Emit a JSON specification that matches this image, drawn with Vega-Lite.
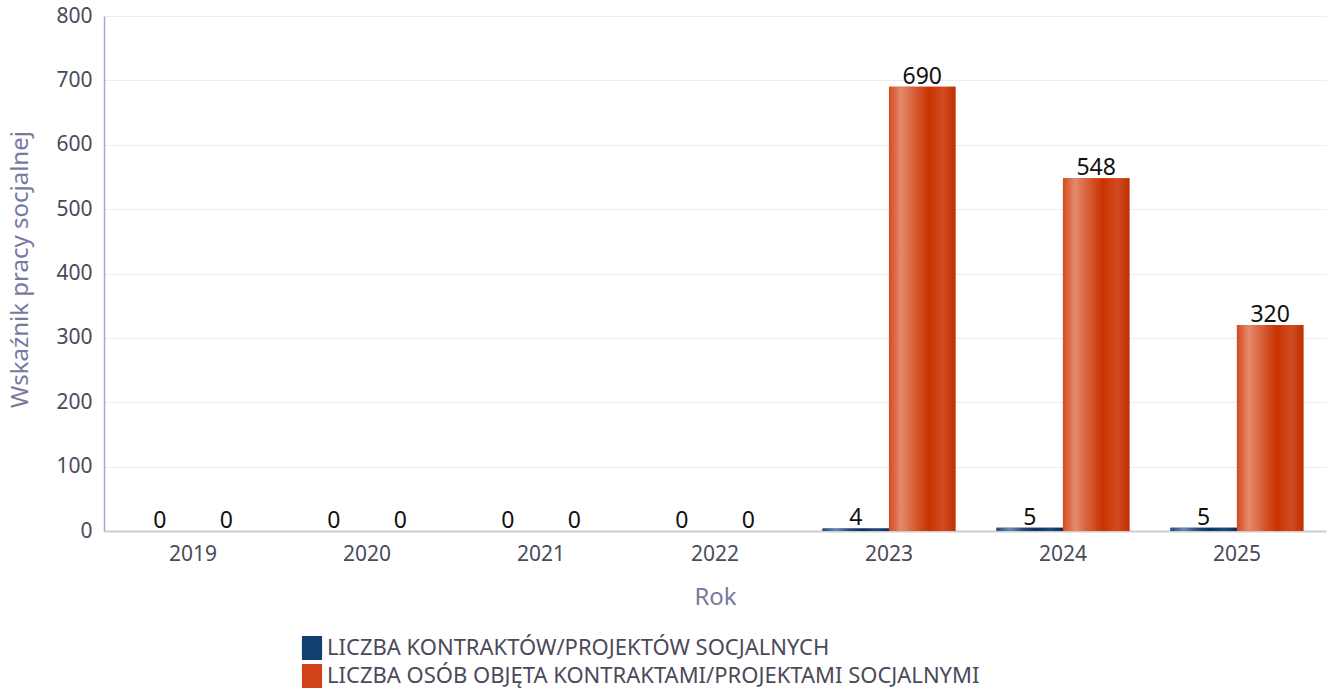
{
  "$schema": "https://vega.github.io/schema/vega-lite/v6.json",
  "width": 1222,
  "height": 515,
  "autosize": {"type": "none"},
  "padding": {"left": 104, "top": 16, "right": 1, "bottom": 159},
  "background": "white",
  "config": {
    "font": "Noto Sans",
    "view": {"stroke": null},
    "axis": {"labelFont": "Noto Sans", "titleFont": "Noto Sans"}
  },
  "data": {
    "values": [
      {"rok": "2019", "seria": "LICZBA KONTRAKTÓW/PROJEKTÓW SOCJALNYCH", "wartosc": 0},
      {"rok": "2019", "seria": "LICZBA OSÓB OBJĘTA KONTRAKTAMI/PROJEKTAMI SOCJALNYMI", "wartosc": 0},
      {"rok": "2020", "seria": "LICZBA KONTRAKTÓW/PROJEKTÓW SOCJALNYCH", "wartosc": 0},
      {"rok": "2020", "seria": "LICZBA OSÓB OBJĘTA KONTRAKTAMI/PROJEKTAMI SOCJALNYMI", "wartosc": 0},
      {"rok": "2021", "seria": "LICZBA KONTRAKTÓW/PROJEKTÓW SOCJALNYCH", "wartosc": 0},
      {"rok": "2021", "seria": "LICZBA OSÓB OBJĘTA KONTRAKTAMI/PROJEKTAMI SOCJALNYMI", "wartosc": 0},
      {"rok": "2022", "seria": "LICZBA KONTRAKTÓW/PROJEKTÓW SOCJALNYCH", "wartosc": 0},
      {"rok": "2022", "seria": "LICZBA OSÓB OBJĘTA KONTRAKTAMI/PROJEKTAMI SOCJALNYMI", "wartosc": 0},
      {"rok": "2023", "seria": "LICZBA KONTRAKTÓW/PROJEKTÓW SOCJALNYCH", "wartosc": 4},
      {"rok": "2023", "seria": "LICZBA OSÓB OBJĘTA KONTRAKTAMI/PROJEKTAMI SOCJALNYMI", "wartosc": 690},
      {"rok": "2024", "seria": "LICZBA KONTRAKTÓW/PROJEKTÓW SOCJALNYCH", "wartosc": 5},
      {"rok": "2024", "seria": "LICZBA OSÓB OBJĘTA KONTRAKTAMI/PROJEKTAMI SOCJALNYMI", "wartosc": 548},
      {"rok": "2025", "seria": "LICZBA KONTRAKTÓW/PROJEKTÓW SOCJALNYCH", "wartosc": 5},
      {"rok": "2025", "seria": "LICZBA OSÓB OBJĘTA KONTRAKTAMI/PROJEKTAMI SOCJALNYMI", "wartosc": 320}
    ]
  },
  "encoding": {
    "x": {
      "field": "rok", "type": "nominal",
      "scale": {"paddingInner": 0.236, "paddingOuter": 0.13},
      "axis": {
        "title": "Rok", "labelAngle": 0, "labelFontSize": 21, "labelColor": "#4a4a5a",
        "labelPadding": 12, "ticks": false, "domainColor": "#cccccc", "domainWidth": 2,
        "titleFontSize": 24, "titleFontWeight": "normal", "titleColor": "#7a78a0", "titlePadding": 21
      }
    },
    "xOffset": {"field": "seria", "type": "nominal", "scale": {"paddingInner": 0}},
    "y": {
      "field": "wartosc", "type": "quantitative",
      "scale": {"domain": [0, 800]},
      "axis": {
        "title": "Wskaźnik pracy socjalnej", "values": [0, 100, 200, 300, 400, 500, 600, 700, 800],
        "labelFontSize": 21, "labelColor": "#4a4a5a", "labelPadding": 12, "ticks": false,
        "domainColor": "#a8a6c4", "domainWidth": 1.5, "gridColor": "#ebebf0", "titleFontSize": 24,
        "titleFontWeight": "normal", "titleColor": "#7a78a0", "titleX": -84, "titleY": 253,
        "titleBaseline": "middle"
      }
    }
  },
  "layer": [
    {
      "mark": {"type": "bar"},
      "encoding": {
        "color": {
          "field": "seria", "type": "nominal",
          "scale": {"range": ["#123f70", "#d2421a"]},
          "legend": {
            "title": null, "orient": "none", "legendX": 196, "legendY": 620,
            "direction": "vertical", "symbolType": "M-0.84,-1H0.84V1H-0.84Z", "symbolSize": 576,
            "labelFontSize": 22, "labelColor": "#4a4a5a", "labelFont": "Noto Sans",
            "labelLimit": 0, "rowPadding": 4, "labelOffset": 3, "symbolStrokeWidth": 0,
            "symbolOpacity": 1,
            "encode": {
              "symbols": {
                "update": {
                  "fill": [
                    {
                      "test": "datum.index === 0",
                      "value": {
                        "gradient": "linear", "x1": 0, "y1": 0, "x2": 1, "y2": 0,
                        "stops": [
                          {"offset": 0, "color": "#1d4d80"},
                          {"offset": 0.25, "color": "#6a8bb0"},
                          {"offset": 0.5, "color": "#1f4b7c"},
                          {"offset": 0.75, "color": "#0b3163"},
                          {"offset": 1, "color": "#0a2d5a"}
                        ]
                      }
                    },
                    {
                      "value": {
                        "gradient": "linear", "x1": 0, "y1": 0, "x2": 1, "y2": 0,
                        "stops": [
                          {"offset": 0, "color": "#d44a1e"},
                          {"offset": 0.25, "color": "#e48a6c"},
                          {"offset": 0.5, "color": "#d65a32"},
                          {"offset": 0.75, "color": "#c83300"},
                          {"offset": 1, "color": "#bd3000"}
                        ]
                      }
                    }
                  ]
                }
              }
            }
          }
        }
      }
    },
    {
      "transform": [{"filter": "datum.seria === 'LICZBA KONTRAKTÓW/PROJEKTÓW SOCJALNYCH'"}],
      "mark": {
        "type": "bar",
        "fill": {
          "gradient": "linear", "x1": 0, "y1": 0, "x2": 1, "y2": 0,
          "stops": [
            {"offset": 0, "color": "#1d4d80"},
            {"offset": 0.2, "color": "#6a8bb0"},
            {"offset": 0.4, "color": "#234f80"},
            {"offset": 0.6, "color": "#0b3163"},
            {"offset": 0.82, "color": "#1f4a7a"},
            {"offset": 1, "color": "#0a2d5a"}
          ]
        }
      },
      "encoding": {}
    },
    {
      "transform": [{"filter": "datum.seria === 'LICZBA OSÓB OBJĘTA KONTRAKTAMI/PROJEKTAMI SOCJALNYMI'"}],
      "mark": {
        "type": "bar",
        "fill": {
          "gradient": "linear", "x1": 0, "y1": 0, "x2": 1, "y2": 0,
          "stops": [
            {"offset": 0, "color": "#d44a1e"},
            {"offset": 0.18, "color": "#e48a6c"},
            {"offset": 0.4, "color": "#d65a32"},
            {"offset": 0.6, "color": "#c83300"},
            {"offset": 0.82, "color": "#d24c22"},
            {"offset": 1, "color": "#bd3000"}
          ]
        }
      },
      "encoding": {}
    },
    {
      "mark": {"type": "text", "fontSize": 23, "color": "#111111", "baseline": "bottom", "dy": 2, "font": "Noto Sans"},
      "encoding": {"text": {"field": "wartosc", "type": "quantitative"}}
    }
  ]
}
